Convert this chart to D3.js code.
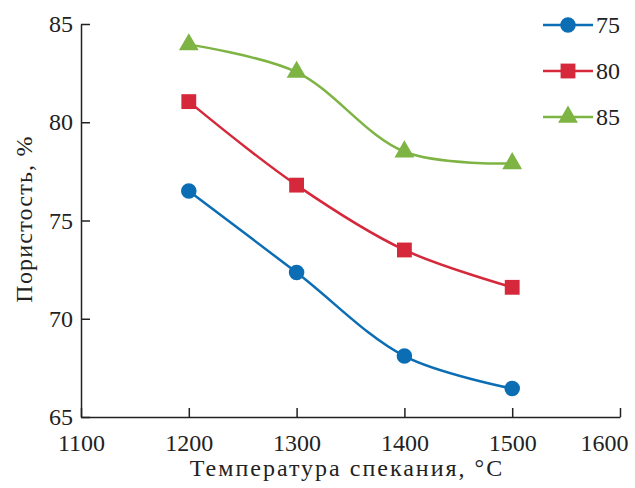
<!DOCTYPE html>
<html>
<head>
<meta charset="utf-8">
<script src="https://cdn.jsdelivr.net/npm/d3@7"></script>
<style>
  body { margin: 0; background: #fff; }
  text { font-family: "Liberation Serif", "Times New Roman", serif; fill: #222; }
</style>
</head>
<body>
<script>
const temps = [1200, 1300, 1400, 1500];
const series75 = [76.5, 72.35, 68.1, 66.45];
const series80 = [81.05, 76.8, 73.5, 71.6];
const series85 = [83.95, 82.55, 78.5, 77.9];
const seriesNames = ["75", "80", "85"];
const xTicks = [1100, 1200, 1300, 1400, 1500, 1600];
const yTicks = [65, 70, 75, 80, 85];

const width = 635, height = 488;
const svg = d3.select("body")
  .append("svg")
  .attr("width", width)
  .attr("height", height);

const x = d3.scaleLinear().domain([1100, 1600]).range([81, 620]);
const y = d3.scaleLinear().domain([65, 85]).range([417, 24]);

const series = [
  { name: seriesNames[0], values: series75, color: "#0b6db4", shape: d3.symbolCircle, size: 190 },
  { name: seriesNames[1], values: series80, color: "#d5283a", shape: d3.symbolSquare, size: 220 },
  { name: seriesNames[2], values: series85, color: "#7db443", shape: d3.symbolTriangle, size: 170 }
];

// axes
const xAxis = svg.append("g")
  .attr("transform", "translate(0," + y(65) + ")")
  .call(d3.axisBottom(x).tickValues(xTicks).tickFormat(d3.format("d")).tickSizeInner(-9).tickSizeOuter(0).tickPadding(17));
const yAxis = svg.append("g")
  .attr("transform", "translate(" + x(1100) + ",0)")
  .call(d3.axisLeft(y).tickValues(yTicks).tickSizeInner(-9).tickSizeOuter(0).tickPadding(8));

[xAxis, yAxis].forEach(a => {
  a.selectAll("path, line").attr("stroke", "#222").attr("stroke-width", 1.5);
  a.selectAll("text").style("font-size", "24px").attr("fill", "#222");
});
xAxis.selectAll(".tick text").attr("dy", "0.71em");
// last label pulled in so it stays inside the page
xAxis.selectAll(".tick text").filter(d => d === 1600).attr("x", -16);

// axis titles
svg.append("text")
  .attr("x", 347)
  .attr("y", 476)
  .attr("text-anchor", "middle")
  .style("font-size", "24px")
  .style("letter-spacing", "2px")
  .text("Температура спекания, °C");

svg.append("text")
  .attr("transform", "translate(32,219) rotate(-90)")
  .attr("text-anchor", "middle")
  .style("font-size", "24px")
  .style("letter-spacing", "1.2px")
  .text("Пористость, %");

// lines
const line = d3.line()
  .x((d, i) => x(temps[i]))
  .y(d => y(d))
  .curve(d3.curveCatmullRom.alpha(0.5));

series.forEach(s => {
  svg.append("path")
    .datum(s.values)
    .attr("fill", "none")
    .attr("stroke", s.color)
    .attr("stroke-width", 2.5)
    .attr("d", line);

  svg.selectAll(null)
    .data(s.values)
    .enter()
    .append("path")
    .attr("d", d3.symbol().type(s.shape).size(s.size))
    .attr("transform", (d, i) => "translate(" + x(temps[i]) + "," + y(d) + ")")
    .attr("fill", s.color);
});

// legend
const legend = svg.append("g");
series.forEach((s, i) => {
  const ly = 25 + i * 46;
  legend.append("line")
    .attr("x1", 543).attr("x2", 593)
    .attr("y1", ly).attr("y2", ly)
    .attr("stroke", s.color)
    .attr("stroke-width", 2.5);
  legend.append("path")
    .attr("d", d3.symbol().type(s.shape).size(s.size))
    .attr("transform", "translate(568," + ly + ")")
    .attr("fill", s.color);
  legend.append("text")
    .attr("x", 596)
    .attr("y", ly + 8)
    .style("font-size", "24px")
    .text(s.name);
});
</script>
</body>
</html>
